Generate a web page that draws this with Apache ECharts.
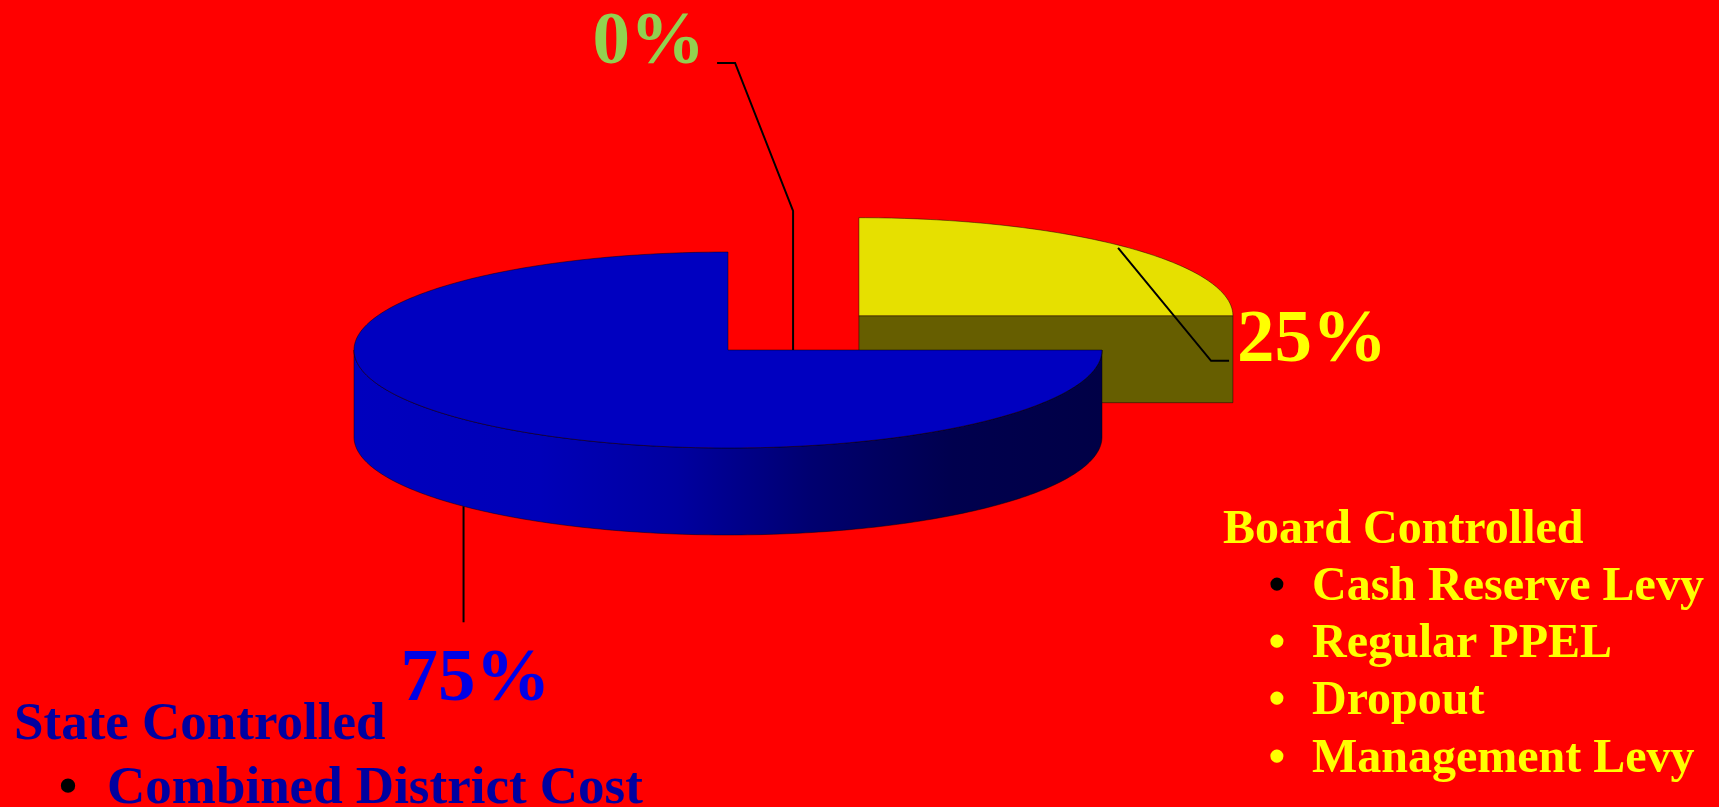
<!DOCTYPE html>
<html><head><meta charset="utf-8">
<script src="https://cdn.jsdelivr.net/npm/echarts@6/dist/echarts.min.js"></script>
<style>html,body{margin:0;padding:0;background:#ff0000;overflow:hidden}#c{width:1719px;height:807px;}</style>
</head><body><div id="c"></div>
<script>
// ---- data ----
const sliceNames = ['Board Controlled', 'State Controlled', 'Other'];
const sliceValues = [25, 75, 0];
const boardTitle = 'Board Controlled';
const boardItems = ['Cash Reserve Levy', 'Regular PPEL', 'Dropout', 'Management Levy'];
const stateTitle = 'State Controlled';
const stateItems = ['Combined District Cost'];

// ---- style / layout ----
const SERIF = '"Liberation Serif", "Times New Roman", serif';
const PIE = { cx: 728, cy: 350, rx: 374, ry: 98, depth: 87 };
const explode = [0.495, 0, 0];
const topColors = ['#E6E000', '#0000C0', '#92D050'];
const cutColors = ['#665E00', '#00005A', '#4A7A20'];
const labelColors = ['#FFFF00', '#0000E6', '#92D050'];
const EDGE = 'rgba(0,0,0,0.45)';
const MID = 0.265; // middle-to-baseline factor

const total = sliceValues.reduce((a, b) => a + b, 0);
const rad = d => d * Math.PI / 180;

function sideFill(i) {
  if (i === 1) {
    return new echarts.graphic.LinearGradient(0, 0, 1, 0, [
      { offset: 0, color: '#0000BE' },
      { offset: 0.25, color: '#0000B8' },
      { offset: 0.43, color: '#0000A0' },
      { offset: 0.61, color: '#000070' },
      { offset: 0.8, color: '#00004E' },
      { offset: 1, color: '#000046' }
    ]);
  }
  return cutColors[i];
}

function angles(i) {
  let cum = 0;
  for (let k = 0; k < i; k++) cum += sliceValues[k];
  const a0 = 90 - cum / total * 360;
  const a1 = a0 - sliceValues[i] / total * 360;
  return [a0, a1];
}

function txt(x, y, str, size, color, align) {
  return {
    type: 'text', z2: 1000,
    style: {
      text: str, x: x, y: y - MID * size, fill: color,
      font: 'bold ' + size + 'px ' + SERIF,
      align: align || 'left', verticalAlign: 'middle',
      textAlign: align || 'left', textVerticalAlign: 'middle'
    }
  };
}

function renderItem(params, api) {
  const i = params.dataIndex;
  const v = api.value(0);
  const [a0, a1] = angles(i);
  const mid = (a0 + a1) / 2;
  const ox = Math.cos(rad(mid)) * explode[i] * PIE.rx;
  const oy = -Math.sin(rad(mid)) * explode[i] * PIE.ry;
  const cx = PIE.cx + ox, cy = PIE.cy + oy;
  const D = PIE.depth;
  const pt = (a, r, dz) => [cx + PIE.rx * (r == null ? 1 : r) * Math.cos(rad(a)), cy - PIE.ry * (r == null ? 1 : r) * Math.sin(rad(a)) + (dz || 0)];
  const children = [];
  const zb = Math.round(300 - Math.sin(rad(mid)) * PIE.ry + oy) * 3;

  if (v > 0) {
    const cutFace = (a) => ({
      type: 'polygon', z2: zb,
      shape: { points: [[cx, cy], pt(a), pt(a, 1, D), [cx, cy + D]] },
      style: { fill: cutColors[i], stroke: EDGE, lineWidth: 1 }
    });
    if (Math.cos(rad(a0)) < -1e-6) children.push(cutFace(a0));
    if (Math.cos(rad(a1)) > 1e-6) children.push(cutFace(a1));
    const ranges = [[-180, 0], [180, 360], [-540, -360]];
    ranges.forEach(([lo, hi]) => {
      const s = Math.max(lo, a1), e = Math.min(hi, a0);
      if (e - s > 0.01) {
        const n = Math.max(8, Math.ceil(e - s));
        const top = [], bot = [];
        for (let k = 0; k <= n; k++) {
          const a = s + (e - s) * k / n;
          top.push(pt(a));
          bot.push(pt(a, 1, D));
        }
        children.push({
          type: 'polygon', z2: zb + 1,
          shape: { points: top.concat(bot.reverse()) },
          style: { fill: sideFill(i), stroke: EDGE, lineWidth: 1 }
        });
      }
    });
    const n = Math.max(8, Math.ceil(a0 - a1));
    const pts = [[cx, cy]];
    for (let k = 0; k <= n; k++) pts.push(pt(a0 - (a0 - a1) * k / n));
    children.push({
      type: 'polygon', z2: zb + 2,
      shape: { points: pts },
      style: { fill: topColors[i], stroke: EDGE, lineWidth: 1 }
    });
  }

  const pct = Math.round(v / total * 100) + '%';
  const LS = 75;
  let guide, label;
  if (i === 0) {
    const s = pt(mid, 0.98);
    const e1 = [s[0] + 93, s[1] + 113];
    const e2 = [e1[0] + 18, e1[1]];
    guide = [s, e1, e2];
    label = txt(e2[0] + 8, e2[1] + 1, pct, LS, labelColors[i], 'left');
  } else if (i === 1) {
    const s = pt(mid, 1, D);
    const e1 = [s[0], s[1] + 116];
    guide = [s, e1];
    label = txt(s[0] + 12, e1[1] + 78, pct, LS, labelColors[i], 'center');
  } else {
    const s = [PIE.cx + 0.174 * PIE.rx, PIE.cy];
    const p2 = [s[0], s[1] - 139];
    const p3 = [p2[0] - 58, p2[1] - 148];
    const p4 = [p3[0] - 18, p3[1]];
    guide = [s, p2, p3, p4];
    label = txt(p4[0] - 12, p4[1], pct, LS, labelColors[i], 'right');
  }
  children.push({
    type: 'polyline', z2: 999,
    shape: { points: guide },
    style: { stroke: '#000', lineWidth: 2, fill: null }
  });
  children.push(label);
  return { type: 'group', children: children };
}

const graphics = [];
function gtxt(x, baseline, str, size, color, align) {
  const t = txt(x, baseline, str, size, color, align);
  return { type: 'text', x: 0, y: 0, z: 10, style: t.style };
}
graphics.push(gtxt(1223, 543, boardTitle, 48, '#FFFF00'));
boardItems.forEach((s, k) => {
  const b = 600 + k * 57.3;
  graphics.push(gtxt(1277, b, '\u2022', 48, k === 0 ? '#000000' : '#FFFF00', 'center'));
  graphics.push(gtxt(1312, b, s, 48, '#FFFF00'));
});
graphics.push(gtxt(14, 739, stateTitle, 53, '#0000A0'));
stateItems.forEach((s, k) => {
  const b = 803 + k * 62;
  graphics.push(gtxt(68, b, '\u2022', 53, '#000000', 'center'));
  graphics.push(gtxt(107, b, s, 53, '#0000A0'));
});

const chart = echarts.init(document.getElementById('c'), null, { renderer: 'canvas' });
chart.setOption({
  backgroundColor: '#FF0000',
  animation: false,
  series: [{
    type: 'custom',
    coordinateSystem: 'none',
    renderItem: renderItem,
    silent: true,
    data: sliceValues.map((v, i) => ({ name: sliceNames[i], value: [v, i] }))
  }],
  graphic: { elements: graphics }
});
</script></body></html>
